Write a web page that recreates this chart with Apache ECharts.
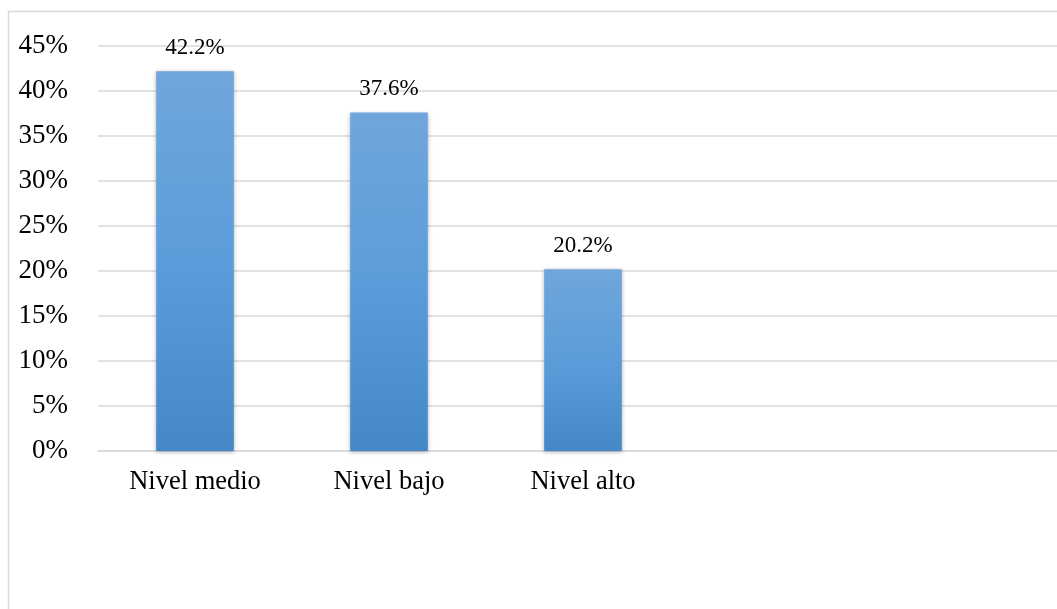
<!DOCTYPE html>
<html>
<head>
<meta charset="utf-8">
<script src="https://cdn.jsdelivr.net/npm/echarts@6/dist/echarts.min.js"></script>
<style>html,body{margin:0;padding:0;background:#fff;overflow:hidden;width:1057px;height:609px}#c{width:1090px;height:609px}</style>
</head>
<body>
<div id="c"></div>
<script>
var categories = ['Nivel medio', 'Nivel bajo', 'Nivel alto', '', ''];
var values = [42.2, 37.6, 20.2, null, null];
var yTicks = [0, 5, 10, 15, 20, 25, 30, 35, 40, 45];

var chart = echarts.init(document.getElementById('c'), null, {renderer: 'canvas'});
var serif = '"Liberation Serif", "Times New Roman", serif';
chart.setOption({
  animation: false,
  graphic: [{
    type: 'rect', shape: {x: 8.5, y: 11.5, width: 1200, height: 700},
    style: {fill: 'none', stroke: '#d9d9d9', lineWidth: 1.5}, z: -1
  }],
  grid: {left: 98, top: 46, width: 970, height: 405, containLabel: false},
  xAxis: {
    type: 'category', data: categories,
    axisLine: {show: true, lineStyle: {color: '#d9d9d9', width: 1.5}},
    axisTick: {show: false},
    axisLabel: {color: '#000', fontFamily: serif, fontSize: 26.5, margin: 18}
  },
  yAxis: {
    type: 'value', min: 0, max: 45, interval: 5,
    axisLine: {show: false}, axisTick: {show: false},
    splitLine: {lineStyle: {color: '#d9d9d9', width: 1.5}},
    axisLabel: {color: '#000', fontFamily: serif, fontSize: 27, margin: 30,
      formatter: function (v) { return yTicks.indexOf(v) >= 0 ? v + '%' : ''; }}
  },
  series: [{
    type: 'bar', data: values, barWidth: '40%',
    itemStyle: {
      color: new echarts.graphic.LinearGradient(0, 0, 0, 1, [
        {offset: 0, color: '#70a6dc'},
        {offset: 0.5, color: '#5b9dda'},
        {offset: 1, color: '#4488c8'}
      ]),
      shadowColor: 'rgba(0,0,0,0.3)', shadowBlur: 4, shadowOffsetX: 0, shadowOffsetY: 1
    },
    label: {show: true, position: 'top', distance: 12, color: '#000', fontFamily: serif, fontSize: 23,
      formatter: function (p) { return p.value.toFixed(1) + '%'; }}
  }]
});
</script>
</body>
</html>
